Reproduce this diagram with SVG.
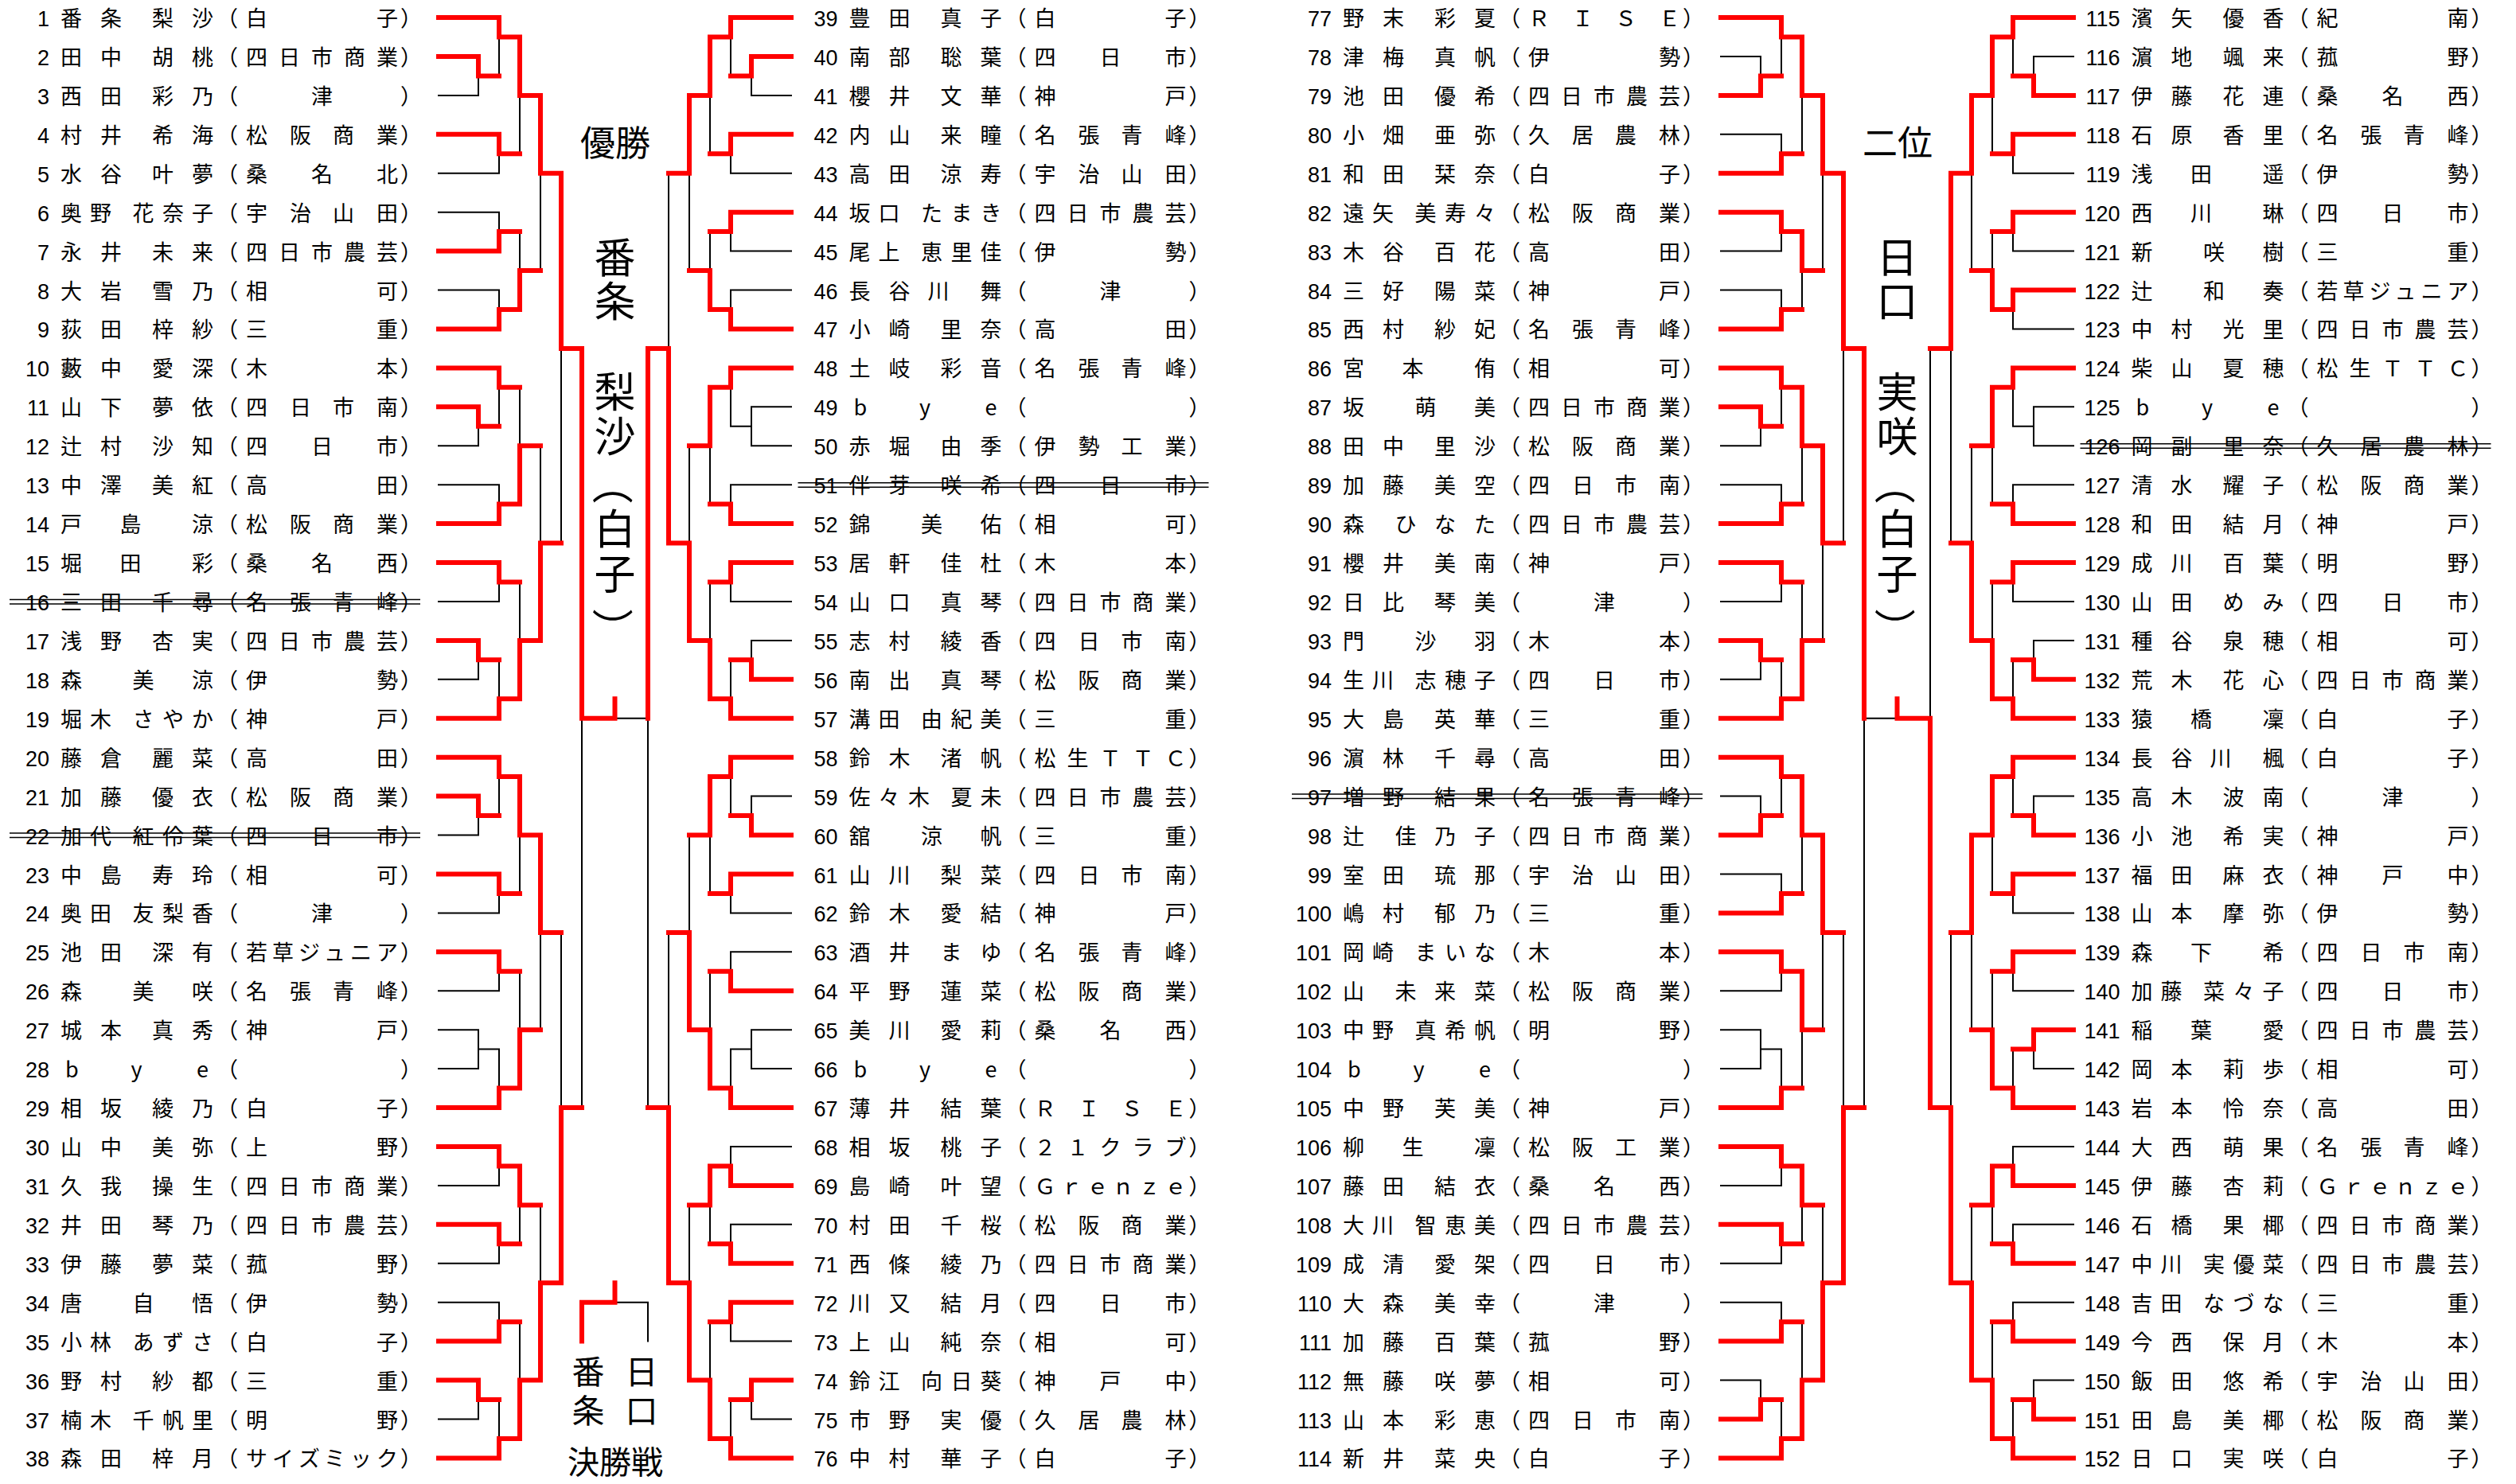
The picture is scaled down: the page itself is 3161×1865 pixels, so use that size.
<svg xmlns="http://www.w3.org/2000/svg" width="3161" height="1865" viewBox="0 0 3161 1865">
<style>
.t{font-family:"Noto Sans CJK JP","Noto Sans CJK SC",sans-serif;font-size:27px;fill:#000}
.n{font-family:"Liberation Sans Narrow","Liberation Sans",Arial,sans-serif;font-size:27px;fill:#000;text-anchor:end}
.k{fill:none;stroke:#000;stroke-width:2;stroke-linecap:square}
.r{fill:none;stroke:#ff0000;stroke-width:6;stroke-linecap:square;stroke-linejoin:miter}
.st{stroke:#000;stroke-width:1.5}
.big{font-family:"Noto Sans CJK JP","Noto Sans CJK SC",sans-serif;font-size:52px;fill:#000;text-anchor:middle}
.hd{font-family:"Noto Sans CJK JP","Noto Sans CJK SC",sans-serif;font-size:44px;fill:#000;text-anchor:middle}
.fn{font-family:"Noto Sans CJK JP","Noto Sans CJK SC",sans-serif;font-size:41px;fill:#000;text-anchor:middle}
</style>
<defs>
<path id="sk" class="k" d="M551 22H627M551 168.8H627M551 217.7H627M551 266.7H627M551 315.6H627M551 364.5H627M551 413.4H627M551 462.4H627M551 609.2H627M551 658.1H627M551 707H627M551 755.9H627M551 902.7H627M551 951.7H627M551 1098.5H627M551 1147.4H627M551 1196.3H627M551 1245.3H627M551 1392H627M551 1441H627M551 1489.9H627M551 1538.8H627M551 1587.8H627M551 1636.7H627M551 1685.6H627M551 1832.4H627
M551 70.9H601V119.9H551M601 95.4H627M551 511.3H601V560.2H551M601 535.8H627M551 804.9H601V853.8H551M601 829.3H627M551 1000.6H601V1049.5H551M601 1025.1H627M551 1294.2H601V1343.1H551M601 1318.6H627M551 1734.6H601V1783.5H551M601 1759H627
M627 22V95.4M627 168.8V217.7M627 266.7V315.6M627 364.5V413.4M627 462.4V535.8M627 609.2V658.1M627 707V755.9M627 829.3V902.7M627 951.7V1025.1M627 1098.5V1147.4M627 1196.3V1245.3M627 1318.6V1392M627 1441V1489.9M627 1538.8V1587.8M627 1636.7V1685.6M627 1759V1832.4
M627 46.5H653M627 193.3H653M627 291.1H653M627 389H653M627 486.8H653M627 633.6H653M627 731.5H653M627 878.3H653M627 976.1H653M627 1122.9H653M627 1220.8H653M627 1367.6H653M627 1465.4H653M627 1563.3H653M627 1661.2H653M627 1808H653
M653 46.5V193.3M653 291.1V389M653 486.8V633.6M653 731.5V878.3M653 976.1V1122.9M653 1220.8V1367.6M653 1465.4V1563.3M653 1661.2V1808
M653 119.9H679M653 340H679M653 560.2H679M653 804.9H679M653 1049.5H679M653 1294.2H679M653 1514.4H679M653 1734.6H679
M679 119.9V340M679 560.2V804.9M679 1049.5V1294.2M679 1514.4V1734.6
M679 217.7H705M679 682.6H705M679 1171.9H705M679 1612.2H705
M705 217.7V682.6M705 1171.9V1612.2M705 437.9H731M705 1392H731
M731 437.9V1392M731 902.7H772.5"/>
</defs>
<rect width="3161" height="1865" fill="#fff"/>
<g id="connectors">
<use href="#sk"/>
<use href="#sk" transform="matrix(-1 0 0 1 1545 0)"/>
<use href="#sk" transform="translate(1611 0)"/>
<use href="#sk" transform="matrix(-1 0 0 1 3156 0)"/>
<path class="k" d="M772.5 1636.7H814V1685.6"/>
<path id="red-c1" class="r" d="M551 22H627V46.5H653V119.9H679V217.7H705V437.9H731V902.7H772.5V878.3M551 70.9H601V95.4H627M551 168.8H627V193.3H653M551 315.6H627V291.1H653M551 413.4H627V389H653V340H679M551 462.4H627V486.8H653M551 511.3H601V535.8H627M551 658.1H627V633.6H653V560.2H679M551 707H627V731.5H653M551 804.9H601V829.3H627M551 902.7H627V878.3H653V804.9H679V682.6H705M551 951.7H627V976.1H653V1049.5H679V1171.9H705M551 1000.6H601V1025.1H627M551 1098.5H627V1122.9H653M551 1196.3H627V1220.8H653M551 1392H627V1367.6H653V1294.2H679M551 1441H627V1465.4H653V1514.4H679M551 1538.8H627V1563.3H653M551 1685.6H627V1661.2H653M551 1734.6H601V1759H627M551 1832.4H627V1808H653V1734.6H679V1612.2H705V1392H731"/>
<path id="red-c2" class="r" transform="matrix(-1 0 0 1 1545 0)" d="M551 22H627V46.5H653V119.9H679V217.7H705M551 70.9H601V95.4H627M551 168.8H627V193.3H653M551 266.7H627V291.1H653M551 413.4H627V389H653V340H679M551 462.4H627V486.8H653V560.2H679M551 658.1H627V633.6H653M551 707H627V731.5H653M551 853.8H601V829.3H627M551 902.7H627V878.3H653V804.9H679V682.6H705V437.9H731V902.7M551 951.7H627V976.1H653V1049.5H679M551 1049.5H601V1025.1H627M551 1098.5H627V1122.9H653M551 1245.3H627V1220.8H653M551 1392H627V1367.6H653V1294.2H679V1171.9H705M551 1489.9H627V1465.4H653V1514.4H679M551 1587.8H627V1563.3H653M551 1636.7H627V1661.2H653M551 1734.6H601V1759H627M551 1832.4H627V1808H653V1734.6H679V1612.2H705V1392H731"/>
<path id="red-c3" class="r" transform="translate(1611 0)" d="M551 22H627V46.5H653V119.9H679V217.7H705V437.9H731V902.7M551 119.9H601V95.4H627M551 217.7H627V193.3H653M551 266.7H627V291.1H653V340H679M551 413.4H627V389H653M551 462.4H627V486.8H653V560.2H679V682.6H705M551 511.3H601V535.8H627M551 658.1H627V633.6H653M551 707H627V731.5H653M551 804.9H601V829.3H627M551 902.7H627V878.3H653V804.9H679M551 951.7H627V976.1H653V1049.5H679V1171.9H705M551 1049.5H601V1025.1H627M551 1147.4H627V1122.9H653M551 1196.3H627V1220.8H653V1294.2H679M551 1392H627V1367.6H653M551 1441H627V1465.4H653V1514.4H679M551 1538.8H627V1563.3H653M551 1685.6H627V1661.2H653M551 1783.5H601V1759H627M551 1832.4H627V1808H653V1734.6H679V1612.2H705V1392H731"/>
<path id="red-c4" class="r" transform="matrix(-1 0 0 1 3156 0)" d="M551 22H627V46.5H653V119.9H679V217.7H705V437.9H731M551 119.9H601V95.4H627M551 168.8H627V193.3H653M551 266.7H627V291.1H653M551 364.5H627V389H653V340H679M551 462.4H627V486.8H653V560.2H679M551 658.1H627V633.6H653M551 707H627V731.5H653M551 853.8H601V829.3H627M551 902.7H627V878.3H653V804.9H679V682.6H705M551 951.7H627V976.1H653V1049.5H679V1171.9H705M551 1049.5H601V1025.1H627M551 1098.5H627V1122.9H653M551 1196.3H627V1220.8H653M551 1294.2H601V1318.6H627M551 1392H627V1367.6H653V1294.2H679M551 1489.9H627V1465.4H653V1514.4H679M551 1587.8H627V1563.3H653M551 1685.6H627V1661.2H653M551 1783.5H601V1759H627M551 1832.4H627V1808H653V1734.6H679V1612.2H705V1392H731V902.7H772.5V878.3"/>
<path id="red-final" class="r" d="M731 1685.6V1636.7H772.5V1612.2"/>
</g>
<g id="champion">
<text class="hd" x="773" y="196">優勝</text>
<text class="big" x="772.5 772.5 772.5 772.5 772.5 772.5" y="343 398 512 568 684 741">番条梨沙白子</text>
<text class="big" x="772.5" y="608" dominant-baseline="central" transform="rotate(90 772.5 608)">（</text>
<text class="big" x="772.5" y="790" dominant-baseline="central" transform="rotate(90 772.5 790)">）</text>
</g>
<g id="runnerup">
<text class="hd" x="2384" y="196">二位</text>
<text class="big" x="2383.5 2383.5 2383.5 2383.5 2383.5 2383.5" y="343 398 512 568 684 741">日口実咲白子</text>
<text class="big" x="2383.5" y="608" dominant-baseline="central" transform="rotate(90 2383.5 608)">（</text>
<text class="big" x="2383.5" y="790" dominant-baseline="central" transform="rotate(90 2383.5 790)">）</text>
</g>
<g id="final">
<text class="fn" x="739 739" y="1739 1788">番条</text>
<text class="fn" x="806 806" y="1739 1788">日口</text>
<text class="fn" x="773" y="1852" style="font-size:40px">決勝戦</text>
</g>
<g id="col1">
<g id="p1"><text class="n" x="62" y="33">1</text><text class="t" x="76 126 191 241 272 309 473 503" y="33">番条梨沙（白子）</text></g>
<g id="p2"><text class="n" x="62" y="81.9">2</text><text class="t" x="76 126 191 241 272 309 350 391 432 473 503" y="81.9">田中胡桃（四日市商業）</text></g>
<g id="p3"><text class="n" x="62" y="130.9">3</text><text class="t" x="76 126 191 241 272 391 503" y="130.9">西田彩乃（津）</text></g>
<g id="p4"><text class="n" x="62" y="179.8">4</text><text class="t" x="76 126 191 241 272 309 364 418 473 503" y="179.8">村井希海（松阪商業）</text></g>
<g id="p5"><text class="n" x="62" y="228.7">5</text><text class="t" x="76 126 191 241 272 309 391 473 503" y="228.7">水谷叶夢（桑名北）</text></g>
<g id="p6"><text class="n" x="62" y="277.7">6</text><text class="t" x="76 113 166.5 204 241 272 309 364 418 473 503" y="277.7">奥野花奈子（宇治山田）</text></g>
<g id="p7"><text class="n" x="62" y="326.6">7</text><text class="t" x="76 126 191 241 272 309 350 391 432 473 503" y="326.6">永井未来（四日市農芸）</text></g>
<g id="p8"><text class="n" x="62" y="375.5">8</text><text class="t" x="76 126 191 241 272 309 473 503" y="375.5">大岩雪乃（相可）</text></g>
<g id="p9"><text class="n" x="62" y="424.4">9</text><text class="t" x="76 126 191 241 272 309 473 503" y="424.4">荻田梓紗（三重）</text></g>
<g id="p10"><text class="n" x="62" y="473.4">10</text><text class="t" x="76 126 191 241 272 309 473 503" y="473.4">藪中愛深（木本）</text></g>
<g id="p11"><text class="n" x="62" y="522.3">11</text><text class="t" x="76 126 191 241 272 309 364 418 473 503" y="522.3">山下夢依（四日市南）</text></g>
<g id="p12"><text class="n" x="62" y="571.2">12</text><text class="t" x="76 126 191 241 272 309 391 473 503" y="571.2">辻村沙知（四日市）</text></g>
<g id="p13"><text class="n" x="62" y="620.2">13</text><text class="t" x="76 126 191 241 272 309 473 503" y="620.2">中澤美紅（高田）</text></g>
<g id="p14"><text class="n" x="62" y="669.1">14</text><text class="t" x="76 150.5 241 272 309 364 418 473 503" y="669.1">戸島涼（松阪商業）</text></g>
<g id="p15"><text class="n" x="62" y="718">15</text><text class="t" x="76 150.5 241 272 309 391 473 503" y="718">堀田彩（桑名西）</text></g>
<g id="p16"><text class="n" x="62" y="766.9">16</text><text class="t" x="76 126 191 241 272 309 364 418 473 503" y="766.9">三田千尋（名張青峰）</text><path class="st" d="M12 753.5H528M12 759H528"/></g>
<g id="p17"><text class="n" x="62" y="815.9">17</text><text class="t" x="76 126 191 241 272 309 350 391 432 473 503" y="815.9">浅野杏実（四日市農芸）</text></g>
<g id="p18"><text class="n" x="62" y="864.8">18</text><text class="t" x="76 166.5 241 272 309 473 503" y="864.8">森美涼（伊勢）</text></g>
<g id="p19"><text class="n" x="62" y="913.7">19</text><text class="t" x="76 113 166.5 204 241 272 309 473 503" y="913.7">堀木さやか（神戸）</text></g>
<g id="p20"><text class="n" x="62" y="962.7">20</text><text class="t" x="76 126 191 241 272 309 473 503" y="962.7">藤倉麗菜（高田）</text></g>
<g id="p21"><text class="n" x="62" y="1011.6">21</text><text class="t" x="76 126 191 241 272 309 364 418 473 503" y="1011.6">加藤優衣（松阪商業）</text></g>
<g id="p22"><text class="n" x="62" y="1060.5">22</text><text class="t" x="76 113 166.5 204 241 272 309 391 473 503" y="1060.5">加代紅伶葉（四日市）</text><path class="st" d="M12 1047H528M12 1052.5H528"/></g>
<g id="p23"><text class="n" x="62" y="1109.5">23</text><text class="t" x="76 126 191 241 272 309 473 503" y="1109.5">中島寿玲（相可）</text></g>
<g id="p24"><text class="n" x="62" y="1158.4">24</text><text class="t" x="76 113 166.5 204 241 272 391 503" y="1158.4">奥田友梨香（津）</text></g>
<g id="p25"><text class="n" x="62" y="1207.3">25</text><text class="t" x="76 126 191 241 272 309 342 375 407 440 473 503" y="1207.3">池田深有（若草ジュニア）</text></g>
<g id="p26"><text class="n" x="62" y="1256.3">26</text><text class="t" x="76 166.5 241 272 309 364 418 473 503" y="1256.3">森美咲（名張青峰）</text></g>
<g id="p27"><text class="n" x="62" y="1305.2">27</text><text class="t" x="76 126 191 241 272 309 473 503" y="1305.2">城本真秀（神戸）</text></g>
<g id="p28"><text class="n" x="62" y="1354.1">28</text><text class="t" x="82 164.5 247 272 503" y="1354.1">bye（）</text></g>
<g id="p29"><text class="n" x="62" y="1403">29</text><text class="t" x="76 126 191 241 272 309 473 503" y="1403">相坂綾乃（白子）</text></g>
<g id="p30"><text class="n" x="62" y="1452">30</text><text class="t" x="76 126 191 241 272 309 473 503" y="1452">山中美弥（上野）</text></g>
<g id="p31"><text class="n" x="62" y="1500.9">31</text><text class="t" x="76 126 191 241 272 309 350 391 432 473 503" y="1500.9">久我操生（四日市商業）</text></g>
<g id="p32"><text class="n" x="62" y="1549.8">32</text><text class="t" x="76 126 191 241 272 309 350 391 432 473 503" y="1549.8">井田琴乃（四日市農芸）</text></g>
<g id="p33"><text class="n" x="62" y="1598.8">33</text><text class="t" x="76 126 191 241 272 309 473 503" y="1598.8">伊藤夢菜（菰野）</text></g>
<g id="p34"><text class="n" x="62" y="1647.7">34</text><text class="t" x="76 166.5 241 272 309 473 503" y="1647.7">唐自悟（伊勢）</text></g>
<g id="p35"><text class="n" x="62" y="1696.6">35</text><text class="t" x="76 113 166.5 204 241 272 309 473 503" y="1696.6">小林あずさ（白子）</text></g>
<g id="p36"><text class="n" x="62" y="1745.6">36</text><text class="t" x="76 126 191 241 272 309 473 503" y="1745.6">野村紗都（三重）</text></g>
<g id="p37"><text class="n" x="62" y="1794.5">37</text><text class="t" x="76 113 166.5 204 241 272 309 473 503" y="1794.5">楠木千帆里（明野）</text></g>
<g id="p38"><text class="n" x="62" y="1843.4">38</text><text class="t" x="76 126 191 241 272 309 342 375 407 440 473 503" y="1843.4">森田梓月（サイズミック）</text></g>
</g>
<g id="col2" transform="translate(990.5 0)">
<g id="p39"><text class="n" x="62" y="33">39</text><text class="t" x="76 126 191 241 272 309 473 503" y="33">豊田真子（白子）</text></g>
<g id="p40"><text class="n" x="62" y="81.9">40</text><text class="t" x="76 126 191 241 272 309 391 473 503" y="81.9">南部聡葉（四日市）</text></g>
<g id="p41"><text class="n" x="62" y="130.9">41</text><text class="t" x="76 126 191 241 272 309 473 503" y="130.9">櫻井文華（神戸）</text></g>
<g id="p42"><text class="n" x="62" y="179.8">42</text><text class="t" x="76 126 191 241 272 309 364 418 473 503" y="179.8">内山来瞳（名張青峰）</text></g>
<g id="p43"><text class="n" x="62" y="228.7">43</text><text class="t" x="76 126 191 241 272 309 364 418 473 503" y="228.7">高田涼寿（宇治山田）</text></g>
<g id="p44"><text class="n" x="62" y="277.7">44</text><text class="t" x="76 113 166.5 204 241 272 309 350 391 432 473 503" y="277.7">坂口たまき（四日市農芸）</text></g>
<g id="p45"><text class="n" x="62" y="326.6">45</text><text class="t" x="76 113 166.5 204 241 272 309 473 503" y="326.6">尾上恵里佳（伊勢）</text></g>
<g id="p46"><text class="n" x="62" y="375.5">46</text><text class="t" x="76 126 175 241 272 391 503" y="375.5">長谷川舞（津）</text></g>
<g id="p47"><text class="n" x="62" y="424.4">47</text><text class="t" x="76 126 191 241 272 309 473 503" y="424.4">小崎里奈（高田）</text></g>
<g id="p48"><text class="n" x="62" y="473.4">48</text><text class="t" x="76 126 191 241 272 309 364 418 473 503" y="473.4">土岐彩音（名張青峰）</text></g>
<g id="p49"><text class="n" x="62" y="522.3">49</text><text class="t" x="82 164.5 247 272 503" y="522.3">bye（）</text></g>
<g id="p50"><text class="n" x="62" y="571.2">50</text><text class="t" x="76 126 191 241 272 309 364 418 473 503" y="571.2">赤堀由季（伊勢工業）</text></g>
<g id="p51"><text class="n" x="62" y="620.2">51</text><text class="t" x="76 126 191 241 272 309 391 473 503" y="620.2">伴芽咲希（四日市）</text><path class="st" d="M12 606.7H528M12 612.2H528"/></g>
<g id="p52"><text class="n" x="62" y="669.1">52</text><text class="t" x="76 166.5 241 272 309 473 503" y="669.1">錦美佑（相可）</text></g>
<g id="p53"><text class="n" x="62" y="718">53</text><text class="t" x="76 126 191 241 272 309 473 503" y="718">居軒佳杜（木本）</text></g>
<g id="p54"><text class="n" x="62" y="766.9">54</text><text class="t" x="76 126 191 241 272 309 350 391 432 473 503" y="766.9">山口真琴（四日市商業）</text></g>
<g id="p55"><text class="n" x="62" y="815.9">55</text><text class="t" x="76 126 191 241 272 309 364 418 473 503" y="815.9">志村綾香（四日市南）</text></g>
<g id="p56"><text class="n" x="62" y="864.8">56</text><text class="t" x="76 126 191 241 272 309 364 418 473 503" y="864.8">南出真琴（松阪商業）</text></g>
<g id="p57"><text class="n" x="62" y="913.7">57</text><text class="t" x="76 113 166.5 204 241 272 309 473 503" y="913.7">溝田由紀美（三重）</text></g>
<g id="p58"><text class="n" x="62" y="962.7">58</text><text class="t" x="76 126 191 241 272 309 350 391 432 473 503" y="962.7">鈴木渚帆（松生ＴＴＣ）</text></g>
<g id="p59"><text class="n" x="62" y="1011.6">59</text><text class="t" x="76 113 150.5 204 241 272 309 350 391 432 473 503" y="1011.6">佐々木夏未（四日市農芸）</text></g>
<g id="p60"><text class="n" x="62" y="1060.5">60</text><text class="t" x="76 166.5 241 272 309 473 503" y="1060.5">舘涼帆（三重）</text></g>
<g id="p61"><text class="n" x="62" y="1109.5">61</text><text class="t" x="76 126 191 241 272 309 364 418 473 503" y="1109.5">山川梨菜（四日市南）</text></g>
<g id="p62"><text class="n" x="62" y="1158.4">62</text><text class="t" x="76 126 191 241 272 309 473 503" y="1158.4">鈴木愛結（神戸）</text></g>
<g id="p63"><text class="n" x="62" y="1207.3">63</text><text class="t" x="76 126 191 241 272 309 364 418 473 503" y="1207.3">酒井まゆ（名張青峰）</text></g>
<g id="p64"><text class="n" x="62" y="1256.3">64</text><text class="t" x="76 126 191 241 272 309 364 418 473 503" y="1256.3">平野蓮菜（松阪商業）</text></g>
<g id="p65"><text class="n" x="62" y="1305.2">65</text><text class="t" x="76 126 191 241 272 309 391 473 503" y="1305.2">美川愛莉（桑名西）</text></g>
<g id="p66"><text class="n" x="62" y="1354.1">66</text><text class="t" x="82 164.5 247 272 503" y="1354.1">bye（）</text></g>
<g id="p67"><text class="n" x="62" y="1403">67</text><text class="t" x="76 126 191 241 272 309 364 418 473 503" y="1403">薄井結葉（ＲＩＳＥ）</text></g>
<g id="p68"><text class="n" x="62" y="1452">68</text><text class="t" x="76 126 191 241 272 309 350 391 432 473 503" y="1452">相坂桃子（２１クラブ）</text></g>
<g id="p69"><text class="n" x="62" y="1500.9">69</text><text class="t" x="76 126 191 241 272 309 342 375 407 440 473 503" y="1500.9">島崎叶望（Ｇｒｅｎｚｅ）</text></g>
<g id="p70"><text class="n" x="62" y="1549.8">70</text><text class="t" x="76 126 191 241 272 309 364 418 473 503" y="1549.8">村田千桜（松阪商業）</text></g>
<g id="p71"><text class="n" x="62" y="1598.8">71</text><text class="t" x="76 126 191 241 272 309 350 391 432 473 503" y="1598.8">西條綾乃（四日市商業）</text></g>
<g id="p72"><text class="n" x="62" y="1647.7">72</text><text class="t" x="76 126 191 241 272 309 391 473 503" y="1647.7">川又結月（四日市）</text></g>
<g id="p73"><text class="n" x="62" y="1696.6">73</text><text class="t" x="76 126 191 241 272 309 473 503" y="1696.6">上山純奈（相可）</text></g>
<g id="p74"><text class="n" x="62" y="1745.6">74</text><text class="t" x="76 113 166.5 204 241 272 309 391 473 503" y="1745.6">鈴江向日葵（神戸中）</text></g>
<g id="p75"><text class="n" x="62" y="1794.5">75</text><text class="t" x="76 126 191 241 272 309 364 418 473 503" y="1794.5">市野実優（久居農林）</text></g>
<g id="p76"><text class="n" x="62" y="1843.4">76</text><text class="t" x="76 126 191 241 272 309 473 503" y="1843.4">中村華子（白子）</text></g>
</g>
<g id="col3" transform="translate(1611 0)">
<g id="p77"><text class="n" x="62" y="33">77</text><text class="t" x="76 126 191 241 272 309 364 418 473 503" y="33">野末彩夏（ＲＩＳＥ）</text></g>
<g id="p78"><text class="n" x="62" y="81.9">78</text><text class="t" x="76 126 191 241 272 309 473 503" y="81.9">津梅真帆（伊勢）</text></g>
<g id="p79"><text class="n" x="62" y="130.9">79</text><text class="t" x="76 126 191 241 272 309 350 391 432 473 503" y="130.9">池田優希（四日市農芸）</text></g>
<g id="p80"><text class="n" x="62" y="179.8">80</text><text class="t" x="76 126 191 241 272 309 364 418 473 503" y="179.8">小畑亜弥（久居農林）</text></g>
<g id="p81"><text class="n" x="62" y="228.7">81</text><text class="t" x="76 126 191 241 272 309 473 503" y="228.7">和田栞奈（白子）</text></g>
<g id="p82"><text class="n" x="62" y="277.7">82</text><text class="t" x="76 113 166.5 204 241 272 309 364 418 473 503" y="277.7">遠矢美寿々（松阪商業）</text></g>
<g id="p83"><text class="n" x="62" y="326.6">83</text><text class="t" x="76 126 191 241 272 309 473 503" y="326.6">木谷百花（高田）</text></g>
<g id="p84"><text class="n" x="62" y="375.5">84</text><text class="t" x="76 126 191 241 272 309 473 503" y="375.5">三好陽菜（神戸）</text></g>
<g id="p85"><text class="n" x="62" y="424.4">85</text><text class="t" x="76 126 191 241 272 309 364 418 473 503" y="424.4">西村紗妃（名張青峰）</text></g>
<g id="p86"><text class="n" x="62" y="473.4">86</text><text class="t" x="76 150.5 241 272 309 473 503" y="473.4">宮本侑（相可）</text></g>
<g id="p87"><text class="n" x="62" y="522.3">87</text><text class="t" x="76 166.5 241 272 309 350 391 432 473 503" y="522.3">坂萌美（四日市商業）</text></g>
<g id="p88"><text class="n" x="62" y="571.2">88</text><text class="t" x="76 126 191 241 272 309 364 418 473 503" y="571.2">田中里沙（松阪商業）</text></g>
<g id="p89"><text class="n" x="62" y="620.2">89</text><text class="t" x="76 126 191 241 272 309 364 418 473 503" y="620.2">加藤美空（四日市南）</text></g>
<g id="p90"><text class="n" x="62" y="669.1">90</text><text class="t" x="76 141.5 191 241 272 309 350 391 432 473 503" y="669.1">森ひなた（四日市農芸）</text></g>
<g id="p91"><text class="n" x="62" y="718">91</text><text class="t" x="76 126 191 241 272 309 473 503" y="718">櫻井美南（神戸）</text></g>
<g id="p92"><text class="n" x="62" y="766.9">92</text><text class="t" x="76 126 191 241 272 391 503" y="766.9">日比琴美（津）</text></g>
<g id="p93"><text class="n" x="62" y="815.9">93</text><text class="t" x="76 166.5 241 272 309 473 503" y="815.9">門沙羽（木本）</text></g>
<g id="p94"><text class="n" x="62" y="864.8">94</text><text class="t" x="76 113 166.5 204 241 272 309 391 473 503" y="864.8">生川志穂子（四日市）</text></g>
<g id="p95"><text class="n" x="62" y="913.7">95</text><text class="t" x="76 126 191 241 272 309 473 503" y="913.7">大島英華（三重）</text></g>
<g id="p96"><text class="n" x="62" y="962.7">96</text><text class="t" x="76 126 191 241 272 309 473 503" y="962.7">濵林千尋（高田）</text></g>
<g id="p97"><text class="n" x="62" y="1011.6">97</text><text class="t" x="76 126 191 241 272 309 364 418 473 503" y="1011.6">増野結果（名張青峰）</text><path class="st" d="M12 998.1H528M12 1003.6H528"/></g>
<g id="p98"><text class="n" x="62" y="1060.5">98</text><text class="t" x="76 141.5 191 241 272 309 350 391 432 473 503" y="1060.5">辻佳乃子（四日市商業）</text></g>
<g id="p99"><text class="n" x="62" y="1109.5">99</text><text class="t" x="76 126 191 241 272 309 364 418 473 503" y="1109.5">室田琉那（宇治山田）</text></g>
<g id="p100"><text class="n" x="62" y="1158.4">100</text><text class="t" x="76 126 191 241 272 309 473 503" y="1158.4">嶋村郁乃（三重）</text></g>
<g id="p101"><text class="n" x="62" y="1207.3">101</text><text class="t" x="76 113 166.5 204 241 272 309 473 503" y="1207.3">岡崎まいな（木本）</text></g>
<g id="p102"><text class="n" x="62" y="1256.3">102</text><text class="t" x="76 141.5 191 241 272 309 364 418 473 503" y="1256.3">山未来菜（松阪商業）</text></g>
<g id="p103"><text class="n" x="62" y="1305.2">103</text><text class="t" x="76 113 166.5 204 241 272 309 473 503" y="1305.2">中野真希帆（明野）</text></g>
<g id="p104"><text class="n" x="62" y="1354.1">104</text><text class="t" x="82 164.5 247 272 503" y="1354.1">bye（）</text></g>
<g id="p105"><text class="n" x="62" y="1403">105</text><text class="t" x="76 126 191 241 272 309 473 503" y="1403">中野芙美（神戸）</text></g>
<g id="p106"><text class="n" x="62" y="1452">106</text><text class="t" x="76 150.5 241 272 309 364 418 473 503" y="1452">柳生凜（松阪工業）</text></g>
<g id="p107"><text class="n" x="62" y="1500.9">107</text><text class="t" x="76 126 191 241 272 309 391 473 503" y="1500.9">藤田結衣（桑名西）</text></g>
<g id="p108"><text class="n" x="62" y="1549.8">108</text><text class="t" x="76 113 166.5 204 241 272 309 350 391 432 473 503" y="1549.8">大川智恵美（四日市農芸）</text></g>
<g id="p109"><text class="n" x="62" y="1598.8">109</text><text class="t" x="76 126 191 241 272 309 391 473 503" y="1598.8">成清愛架（四日市）</text></g>
<g id="p110"><text class="n" x="62" y="1647.7">110</text><text class="t" x="76 126 191 241 272 391 503" y="1647.7">大森美幸（津）</text></g>
<g id="p111"><text class="n" x="62" y="1696.6">111</text><text class="t" x="76 126 191 241 272 309 473 503" y="1696.6">加藤百葉（菰野）</text></g>
<g id="p112"><text class="n" x="62" y="1745.6">112</text><text class="t" x="76 126 191 241 272 309 473 503" y="1745.6">無藤咲夢（相可）</text></g>
<g id="p113"><text class="n" x="62" y="1794.5">113</text><text class="t" x="76 126 191 241 272 309 364 418 473 503" y="1794.5">山本彩恵（四日市南）</text></g>
<g id="p114"><text class="n" x="62" y="1843.4">114</text><text class="t" x="76 126 191 241 272 309 473 503" y="1843.4">新井菜央（白子）</text></g>
</g>
<g id="col4" transform="translate(2601.5 0)">
<g id="p115"><text class="n" x="62" y="33">115</text><text class="t" x="76 126 191 241 272 309 473 503" y="33">濱矢優香（紀南）</text></g>
<g id="p116"><text class="n" x="62" y="81.9">116</text><text class="t" x="76 126 191 241 272 309 473 503" y="81.9">濵地颯来（菰野）</text></g>
<g id="p117"><text class="n" x="62" y="130.9">117</text><text class="t" x="76 126 191 241 272 309 391 473 503" y="130.9">伊藤花連（桑名西）</text></g>
<g id="p118"><text class="n" x="62" y="179.8">118</text><text class="t" x="76 126 191 241 272 309 364 418 473 503" y="179.8">石原香里（名張青峰）</text></g>
<g id="p119"><text class="n" x="62" y="228.7">119</text><text class="t" x="76 150.5 241 272 309 473 503" y="228.7">浅田遥（伊勢）</text></g>
<g id="p120"><text class="n" x="62" y="277.7">120</text><text class="t" x="76 150.5 241 272 309 391 473 503" y="277.7">西川琳（四日市）</text></g>
<g id="p121"><text class="n" x="62" y="326.6">121</text><text class="t" x="76 166.5 241 272 309 473 503" y="326.6">新咲樹（三重）</text></g>
<g id="p122"><text class="n" x="62" y="375.5">122</text><text class="t" x="76 166.5 241 272 309 342 375 407 440 473 503" y="375.5">辻和奏（若草ジュニア）</text></g>
<g id="p123"><text class="n" x="62" y="424.4">123</text><text class="t" x="76 126 191 241 272 309 350 391 432 473 503" y="424.4">中村光里（四日市農芸）</text></g>
<g id="p124"><text class="n" x="62" y="473.4">124</text><text class="t" x="76 126 191 241 272 309 350 391 432 473 503" y="473.4">柴山夏穂（松生ＴＴＣ）</text></g>
<g id="p125"><text class="n" x="62" y="522.3">125</text><text class="t" x="82 164.5 247 272 503" y="522.3">bye（）</text></g>
<g id="p126"><text class="n" x="62" y="571.2">126</text><text class="t" x="76 126 191 241 272 309 364 418 473 503" y="571.2">岡副里奈（久居農林）</text><path class="st" d="M12 557.7H528M12 563.2H528"/></g>
<g id="p127"><text class="n" x="62" y="620.2">127</text><text class="t" x="76 126 191 241 272 309 364 418 473 503" y="620.2">清水耀子（松阪商業）</text></g>
<g id="p128"><text class="n" x="62" y="669.1">128</text><text class="t" x="76 126 191 241 272 309 473 503" y="669.1">和田結月（神戸）</text></g>
<g id="p129"><text class="n" x="62" y="718">129</text><text class="t" x="76 126 191 241 272 309 473 503" y="718">成川百葉（明野）</text></g>
<g id="p130"><text class="n" x="62" y="766.9">130</text><text class="t" x="76 126 191 241 272 309 391 473 503" y="766.9">山田めみ（四日市）</text></g>
<g id="p131"><text class="n" x="62" y="815.9">131</text><text class="t" x="76 126 191 241 272 309 473 503" y="815.9">種谷泉穂（相可）</text></g>
<g id="p132"><text class="n" x="62" y="864.8">132</text><text class="t" x="76 126 191 241 272 309 350 391 432 473 503" y="864.8">荒木花心（四日市商業）</text></g>
<g id="p133"><text class="n" x="62" y="913.7">133</text><text class="t" x="76 150.5 241 272 309 473 503" y="913.7">猿橋凜（白子）</text></g>
<g id="p134"><text class="n" x="62" y="962.7">134</text><text class="t" x="76 126 175 241 272 309 473 503" y="962.7">長谷川楓（白子）</text></g>
<g id="p135"><text class="n" x="62" y="1011.6">135</text><text class="t" x="76 126 191 241 272 391 503" y="1011.6">高木波南（津）</text></g>
<g id="p136"><text class="n" x="62" y="1060.5">136</text><text class="t" x="76 126 191 241 272 309 473 503" y="1060.5">小池希実（神戸）</text></g>
<g id="p137"><text class="n" x="62" y="1109.5">137</text><text class="t" x="76 126 191 241 272 309 391 473 503" y="1109.5">福田麻衣（神戸中）</text></g>
<g id="p138"><text class="n" x="62" y="1158.4">138</text><text class="t" x="76 126 191 241 272 309 473 503" y="1158.4">山本摩弥（伊勢）</text></g>
<g id="p139"><text class="n" x="62" y="1207.3">139</text><text class="t" x="76 150.5 241 272 309 364 418 473 503" y="1207.3">森下希（四日市南）</text></g>
<g id="p140"><text class="n" x="62" y="1256.3">140</text><text class="t" x="76 113 166.5 204 241 272 309 391 473 503" y="1256.3">加藤菜々子（四日市）</text></g>
<g id="p141"><text class="n" x="62" y="1305.2">141</text><text class="t" x="76 150.5 241 272 309 350 391 432 473 503" y="1305.2">稲葉愛（四日市農芸）</text></g>
<g id="p142"><text class="n" x="62" y="1354.1">142</text><text class="t" x="76 126 191 241 272 309 473 503" y="1354.1">岡本莉歩（相可）</text></g>
<g id="p143"><text class="n" x="62" y="1403">143</text><text class="t" x="76 126 191 241 272 309 473 503" y="1403">岩本怜奈（高田）</text></g>
<g id="p144"><text class="n" x="62" y="1452">144</text><text class="t" x="76 126 191 241 272 309 364 418 473 503" y="1452">大西萌果（名張青峰）</text></g>
<g id="p145"><text class="n" x="62" y="1500.9">145</text><text class="t" x="76 126 191 241 272 309 342 375 407 440 473 503" y="1500.9">伊藤杏莉（Ｇｒｅｎｚｅ）</text></g>
<g id="p146"><text class="n" x="62" y="1549.8">146</text><text class="t" x="76 126 191 241 272 309 350 391 432 473 503" y="1549.8">石橋果椰（四日市商業）</text></g>
<g id="p147"><text class="n" x="62" y="1598.8">147</text><text class="t" x="76 113 166.5 204 241 272 309 350 391 432 473 503" y="1598.8">中川実優菜（四日市農芸）</text></g>
<g id="p148"><text class="n" x="62" y="1647.7">148</text><text class="t" x="76 113 166.5 204 241 272 309 473 503" y="1647.7">吉田なづな（三重）</text></g>
<g id="p149"><text class="n" x="62" y="1696.6">149</text><text class="t" x="76 126 191 241 272 309 473 503" y="1696.6">今西保月（木本）</text></g>
<g id="p150"><text class="n" x="62" y="1745.6">150</text><text class="t" x="76 126 191 241 272 309 364 418 473 503" y="1745.6">飯田悠希（宇治山田）</text></g>
<g id="p151"><text class="n" x="62" y="1794.5">151</text><text class="t" x="76 126 191 241 272 309 364 418 473 503" y="1794.5">田島美椰（松阪商業）</text></g>
<g id="p152"><text class="n" x="62" y="1843.4">152</text><text class="t" x="76 126 191 241 272 309 473 503" y="1843.4">日口実咲（白子）</text></g>
</g>
</svg>
